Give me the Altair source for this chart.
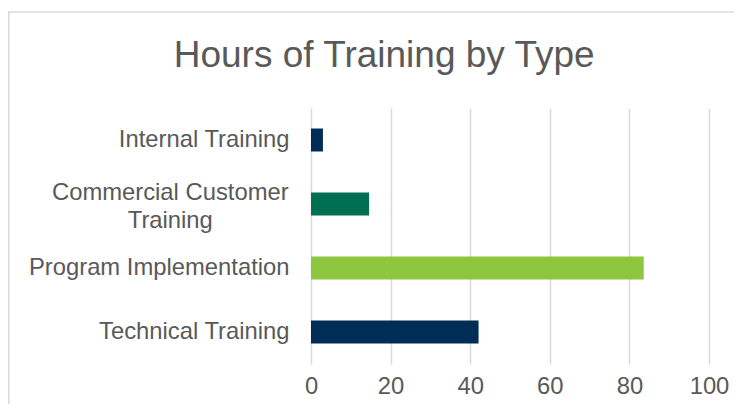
import altair as alt
import pandas as pd

title_text = "Hours of Training by Type"
categories = ["Internal Training", "Commercial Customer Training", "Program Implementation", "Technical Training"]
hours = [3.0, 14.6, 83.6, 42.1]
colors = ["#002D56", "#006F51", "#8DC63F", "#002D56"]
x_ticks = [0, 20, 40, 60, 80, 100]
wrapped_label = "Commercial Customer\nTraining"

df = pd.DataFrame({"Type": categories, "Hours": hours})

font = "Liberation Sans"
grey = "#595959"

label_expr = "datum.value == 'Commercial Customer Training' ? '' : datum.value"
y_scale = alt.Scale(domain=categories)

border = alt.Chart(pd.DataFrame({"d": [0]})).mark_rect(
    filled=False, stroke="#d9d9d9", strokeWidth=1.5
).encode(
    x=alt.value(-302.2), x2=alt.value(460),
    y=alt.value(-96), y2=alt.value(330),
)

title = alt.Chart(pd.DataFrame({"t": [title_text]})).mark_text(
    font=font, fontSize=37, color=grey, align="center", baseline="alphabetic"
).encode(
    text="t:N", x=alt.value(73.2), y=alt.value(-41.3),
)

bars = alt.Chart(df).mark_bar(size=23).encode(
    y=alt.Y("Type:N", sort=categories, title=None, scale=y_scale,
            axis=alt.Axis(labelExpr=label_expr, labelFontSize=23.8, labelFont=font,
                          labelColor=grey, labelPadding=22, ticks=False, domain=False,
                          labelLimit=400)),
    x=alt.X("Hours:Q", title=None, scale=alt.Scale(domain=[0, 100], nice=False),
            axis=alt.Axis(values=x_ticks, labelFontSize=23.8, labelFont=font,
                          labelColor=grey, labelPadding=10, ticks=False, domain=False,
                          labelFlush=False, labelOverlap=False,
                          grid=True, gridColor="#d9d9d9", gridWidth=1.5)),
    color=alt.Color("Type:N", scale=alt.Scale(domain=categories, range=colors), legend=None),
)

wrap_df = pd.DataFrame({"Type": [categories[1]], "label": [wrapped_label]})
wrap = alt.Chart(wrap_df).mark_text(
    font=font, fontSize=23.8, color=grey, align="center", baseline="middle",
    lineBreak="\n", lineHeight=28, dy=-11.5
).encode(
    y=alt.Y("Type:N", sort=categories, scale=y_scale),
    x=alt.value(-140.7),
    text="label:N",
)

chart = alt.layer(border, title, bars, wrap).properties(
    width=398, height=256,
    autosize=alt.AutoSizeParams(type="none"),
    padding={"left": 303, "top": 100, "right": 25, "bottom": 40},
).configure_view(stroke=None)

chart.save("out.html", embed_options={"renderer": "svg", "actions": False})
